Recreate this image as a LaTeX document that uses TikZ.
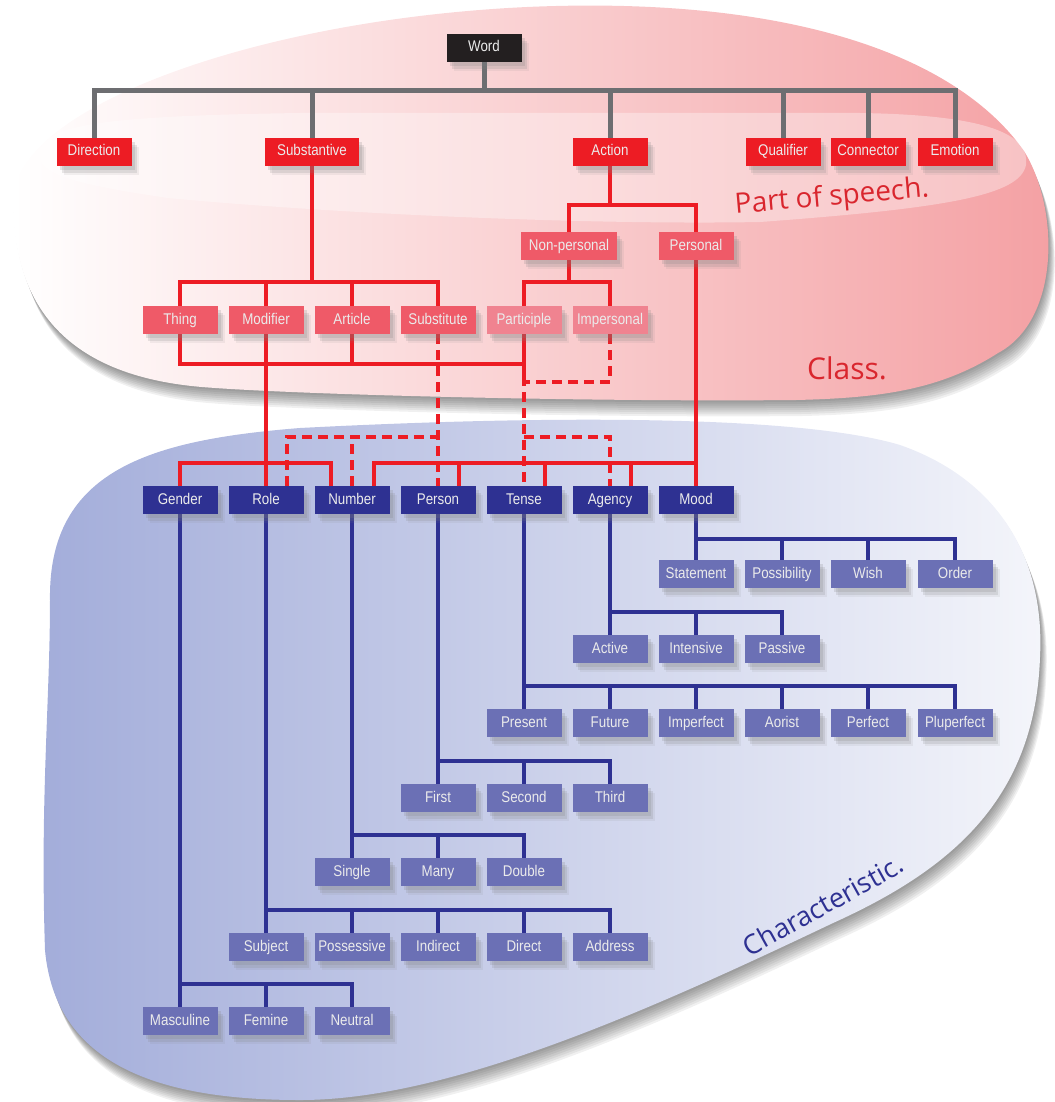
\documentclass[tikz,border=0pt]{standalone}
\usepackage{fontspec}
\setmainfont{Liberation Sans}[FakeStretch=0.86]
\newfontfamily\tagfont{Open Sans}
\usetikzlibrary{shadows}

\definecolor{wordblack}{HTML}{231F20}
\definecolor{posred}{HTML}{ED1C24}
\definecolor{classred}{HTML}{EF5A68}
\definecolor{palered}{HTML}{F08390}
\definecolor{charblue}{HTML}{2E3192}
\definecolor{subblue}{HTML}{6B70B5}
\definecolor{linegray}{HTML}{6D6E71}
\definecolor{blobpink}{HTML}{F4A0A3}
\definecolor{blobblue}{HTML}{A3ADDA}
\definecolor{tagred}{HTML}{D9262E}

\pgfdeclarelayer{blobs}
\pgfdeclarelayer{wires}
\pgfsetlayers{blobs,wires,main}

% outlines of the three regions, in pixel units
\newcommand\pinkoutline{(13,200) .. controls (13,110) and (250,20) .. (527,7)
  .. controls (800,-5) and (960,60) .. (1024,151)
  .. controls (1060,210) and (1060,320) .. (998,353)
  .. controls (940,390) and (880,398) .. (796,400)
  .. controls (600,402) and (300,395) .. (202,387)
  .. controls (60,375) and (13,300) .. (13,200) -- cycle}
\newcommand\bandoutline{(39,155) .. controls (39,125) and (100,116) .. (300,113)
  -- (860,113) .. controls (990,115) and (1030,135) .. (1026,165)
  .. controls (1020,195) and (950,208) .. (760,222)
  .. controls (600,225) and (350,215) .. (168,198)
  .. controls (80,185) and (39,175) .. (39,155) -- cycle}
\newcommand\blueoutline{(50,600) .. controls (48,470) and (150,440) .. (300,428)
  .. controls (550,415) and (800,415) .. (900,445)
  .. controls (1000,480) and (1045,560) .. (1040,657)
  .. controls (1035,800) and (950,870) .. (833,923)
  .. controls (650,1010) and (450,1100) .. (300,1100)
  .. controls (150,1100) and (55,1060) .. (45,950)
  .. controls (40,800) and (50,700) .. (50,600) -- cycle}

\tikzset{
  box/.style={minimum width=75pt, minimum height=28pt, inner sep=0pt,
    text height=11pt, text depth=3pt,
    text=white!92!black, font=\fontsize{15.5}{17}\selectfont,
    drop shadow={shadow xshift=3pt, shadow yshift=-4pt, opacity=.2},
    drop shadow={shadow xshift=5pt, shadow yshift=-7pt, opacity=.18},
    drop shadow={shadow xshift=7pt, shadow yshift=-9pt, opacity=.1}},
  wordbox/.style={box, fill=wordblack},
  posbox/.style={box, fill=posred},
  classbox/.style={box, fill=classred},
  paleclassbox/.style={box, fill=palered},
  charbox/.style={box, fill=charblue},
  subbox/.style={box, fill=subblue},
  grayline/.style={draw=linegray, line width=5pt},
  redline/.style={draw=posred, line width=4.5pt},
  reddash/.style={redline, dash pattern=on 10pt off 6pt},
  blueline/.style={draw=charblue, line width=4.5pt},
}

\begin{document}
\begin{tikzpicture}[x=1pt, y=-1pt]
  \useasboundingbox (0,0) rectangle (1054,1102);

  % regions
  \begin{pgfonlayer}{blobs}
    \foreach \s in {2,4,...,16}
      \fill[black, opacity=.06, shift={(0.4*\s,\s)}] \pinkoutline;
    \shade[left color=white, right color=blobpink] \pinkoutline;
    \fill[white, opacity=.35] \bandoutline;
    \foreach \s in {2,4,...,16}
      \fill[black, opacity=.06, shift={(0.4*\s,\s)}] \blueoutline;
    \shade[left color=blobblue, right color=blobblue!12] \blueoutline;
  \end{pgfonlayer}

  % word and parts of speech
  \node[wordbox] (word) at (484,48) {Word};
  \node[posbox] (direction) at (94,152) {Direction};
  \node[posbox, minimum width=94pt] (substantive) at (312,152) {Substantive};
  \node[posbox] (action) at (610,152) {Action};
  \node[posbox] (qualifier) at (783,152) {Qualifier};
  \node[posbox] (connector) at (868,152) {Connector};
  \node[posbox] (emotion) at (955,152) {Emotion};

  % classes
  \node[classbox, minimum width=96pt] (nonpersonal) at (569,246) {Non-personal};
  \node[classbox] (personal) at (696,246) {Personal};
  \node[classbox] (thing) at (180,320) {Thing};
  \node[classbox] (modifier) at (266,320) {Modifier};
  \node[classbox] (article) at (352,320) {Article};
  \node[classbox] (substitute) at (438,320) {Substitute};
  \node[paleclassbox] (participle) at (524,320) {Participle};
  \node[paleclassbox] (impersonal) at (610,320) {Impersonal};

  % characteristics
  \foreach \n/\t [count=\i from 0] in {gender/Gender, role/Role, number/Number,
      person/Person, tense/Tense, agency/Agency, mood/Mood}
    \node[charbox] (\n) at (180+86*\i,500) {\t};

  % values of the characteristics
  \foreach \n/\t/\x/\y in {statement/Statement/696/574, possibility/Possibility/782/574,
      wish/Wish/868/574, order/Order/955/574,
      active/Active/610/649, intensive/Intensive/696/649, passive/Passive/782/649,
      present/Present/524/723, future/Future/610/723, imperfect/Imperfect/696/723,
      aorist/Aorist/782/723, perfect/Perfect/868/723, pluperfect/Pluperfect/955/723,
      first/First/438/798, second/Second/524/798, third/Third/610/798,
      single/Single/352/872, many/Many/438/872, double/Double/524/872,
      subject/Subject/266/947, possessive/Possessive/352/947, indirect/Indirect/438/947,
      direct/Direct/524/947, address/Address/610/947,
      masculine/Masculine/180/1021, femine/Femine/266/1021, neutral/Neutral/352/1021}
    \node[subbox] (\n) at (\x,\y) {\t};

  \begin{pgfonlayer}{wires}
    % gray tree
    \coordinate (wordbus) at (484,91);
    \draw[grayline] (direction.north) |- (wordbus) -| (emotion.north);
    \foreach \n in {word, substantive, action, qualifier, connector}
      \draw[grayline] (\n) -- (\n |- wordbus);

    % red tree
    \coordinate (subbus) at (312,282);
    \draw[redline] (thing.north) |- (subbus) -| (substitute.north);
    \foreach \n in {substantive, modifier, article}
      \draw[redline] (\n) -- (\n |- subbus);
    \coordinate (actbus) at (610,205);
    \draw[redline] (nonpersonal.north) |- (actbus) -| (personal.north);
    \draw[redline] (action) -- (actbus);
    \coordinate (npbus) at (569,282);
    \draw[redline] (participle.north) |- (npbus) -| (impersonal.north);
    \draw[redline] (nonpersonal) -- (npbus);

    \coordinate (classbus) at (352,364);
    \coordinate (impdash) at (567,382);
    \draw[redline] (thing.south) |- (classbus) -| (participle.south);
    \draw[redline] (article) -- (article |- classbus);
    \draw[redline] (participle) -- (participle |- impdash);
    \draw[redline] (modifier) -- (role);
    \coordinate (genbus) at (266,463);
    \draw[redline] (gender.north) |- (genbus) -| ([xshift=-21pt]number.north);
    \draw[redline] (personal) -- (mood);
    \coordinate (persbus) at (696,463);
    \draw[redline] ([xshift=22pt]number.north) |- (persbus);
    \foreach \n in {person, tense, agency}
      \draw[redline] ([xshift=21pt]\n.north) -- ([xshift=21pt]\n.north |- persbus);

    % dashed links
    \coordinate (subdash) at (438,437);
    \draw[reddash] (substitute) -- (person);
    \draw[reddash] ([xshift=21pt]role.north) |- (subdash);
    \draw[reddash] (number.north) -- (number.north |- subdash);
    \draw[reddash] (impersonal.south) |- (impdash) -| (tense.north);
    \coordinate (agdash) at (567,437);
    \draw[reddash] (tense.north |- agdash) -| (agency.north);

    % blue trees
    \foreach \p/\f/\l/\mids/\g in {mood/statement/order/{possibility,wish}/21,
        agency/active/passive/{intensive}/23,
        tense/present/pluperfect/{future,imperfect,aorist,perfect}/23,
        person/first/third/{second}/23,
        number/single/double/{many}/23,
        role/subject/address/{possessive,indirect,direct}/23,
        gender/masculine/neutral/{femine}/23}
    {
      \draw[blueline] (\p) -- (\f);
      \draw[blueline] ([yshift=\g pt]\f.north) -| (\l.north);
      \foreach \m in \mids
        \draw[blueline] (\m) -- ([yshift=\g pt]\m.north);
    }
  \end{pgfonlayer}

  % region names
  \node[text=tagred, font=\tagfont\fontsize{28}{30}\selectfont, rotate=5] (postag) at (832,198) {Part of speech.};
  \node[text=tagred, font=\tagfont\fontsize{30}{32}\selectfont] (classtag) at (847,368) {Class.};
  \node[text=charblue, font=\tagfont\fontsize{27}{30}\selectfont, rotate=29] (chartag) at (823,905) {Characteristic.};
\end{tikzpicture}
\end{document}
